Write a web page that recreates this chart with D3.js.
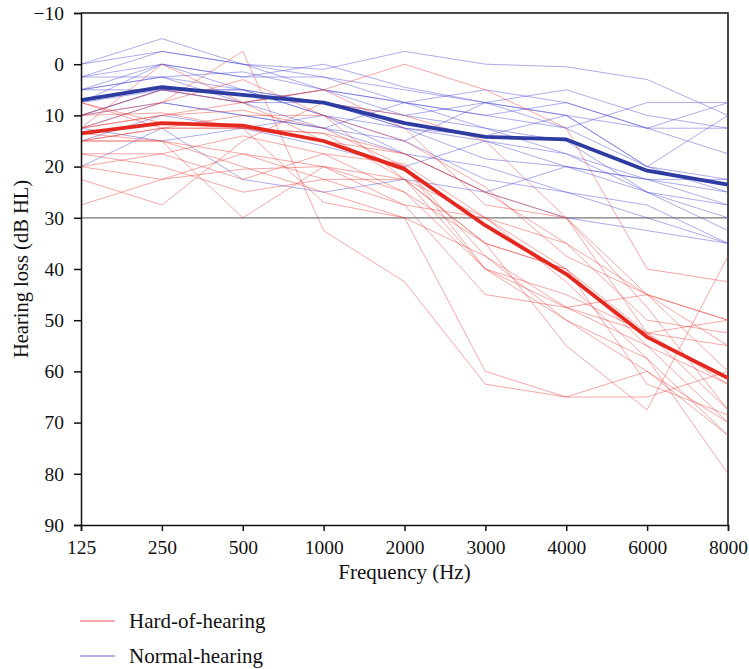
<!DOCTYPE html>
<html>
<head>
<meta charset="utf-8">
<script src="https://cdn.jsdelivr.net/npm/d3@7"></script>
<style>
  body { margin: 0; background: #fff; }
  .chart text { font-family: "Liberation Serif", "Times New Roman", serif; fill: #111; }
</style>
</head>
<body>
<div class="chart"></div>
<script>
// frequencies (Hz), categorical axis
const freqs = ["125", "250", "500", "1000", "2000", "3000", "4000", "6000", "8000"];
const yTicks = [-10, 0, 10, 20, 30, 40, 50, 60, 70, 80, 90];

// group means
const hardMean = [13.5, 11.5, 12, 15, 20.5, 31.5, 41, 53.3, 61.3];
const normalMean = [7, 4.5, 6, 7.5, 11.5, 14.2, 14.7, 20.8, 23.5];

// individual audiograms, hard-of-hearing
const hardSubjects = [
  [10, 7.5, -2.5, 32.5, 42.5, 62.5, 65, 65, 60],
  [15, 12.5, 12.5, 15, 17.5, 25, 30, 45, 50],
  [12.5, 10, 7.5, 5, 0, 5, 12.5, 40, 42.5],
  [27.5, 22.5, 17.5, 20, 27.5, 45, 47.5, 45, 50],
  [22.5, 27.5, 15, 7.5, 10, 15, 30, 52.5, 55],
  [17.5, 17.5, 22.5, 17.5, 25, 35, 40, 52.5, 67.5],
  [15, 15, 30, 20, 25, 40, 50, 60, 72.5],
  [12.5, 10, 9, 12.5, 20, 37.5, 47.5, 55, 62.5],
  [7.5, 12.5, 10, 10, 22.5, 35, 55, 67.5, 37.5],
  [13.5, 15, 20, 25, 30, 60, 65, 60, 70],
  [17.5, 20, 25, 22.5, 22.5, 30, 42.5, 57.5, 80],
  [10, 9.5, 12.5, 13.5, 17.5, 25, 35, 50, 52.5],
  [20, 17.5, 14, 17.5, 19.5, 30, 40, 62.5, 68.5],
  [12.5, 7.5, 3, 10, 15, 24, 37.5, 45, 55],
  [15, 12.5, 12.5, 27, 30, 37.5, 50, 57.5, 72.5],
  [10, 5, 7.5, 15, 20, 40, 45, 52.5, 62.5],
  [7.5, 11.5, 12.5, 13.5, 22.5, 40, 47.5, 52.5, 50],
  [15, 15, 17.5, 22.5, 27.5, 30, 35, 45, 60],
  [12.5, 0, 7.5, 5, 12.5, 27.5, 30, 47.5, 67.5],
  [20, 22.5, 20.5, 20, 22.5, 35, 40, 55, 70]
];

// individual audiograms, normal-hearing
const normalSubjects = [
  [0, -5, 0, 1, -2.5, 0, 0.5, 3, 10],
  [2.5, -2.5, 0, 5, 7.5, 5, 7.5, 12.5, 7.5],
  [5, 0, 2.5, 0, 4.5, 7.5, 12.5, 7.5, 7.5],
  [2.5, 0, 5, 7.5, 10, 7.5, 10, 20, 10],
  [5, 2.5, 1.5, 5, 7.5, 10, 7.5, 12.5, 12.5],
  [7.5, 0, 2.5, 2.5, 7.5, 12.5, 17.5, 22.5, 25],
  [10, 5, 5, 10, 12.5, 15, 20, 25, 27.5],
  [5, 5, 7.5, 5, 10, 12.5, 15, 25, 32.5],
  [12.5, 7.5, 10, 12.5, 15, 22.5, 25, 27.5, 35],
  [15, 10, 12.5, 10, 17.5, 20, 25, 30, 35],
  [20, 12.5, 22.5, 25, 22.5, 25, 20, 22.5, 22.5],
  [7.5, 5, 7.5, 7.5, 12.5, 14, 10, 20, 25],
  [2.5, 2.5, 5, 10, 15, 7.5, 10, 12.5, 17.5],
  [10, 7.5, 10, 12.5, 17.5, 25, 30, 32.5, 35],
  [5, 2.5, 7.5, 12.5, 7.5, 10, 12.5, 20, 22.5],
  [12.5, 15, 12.5, 16, 20, 15, 17.5, 25, 30],
  [0, -2.5, 0, 2.5, 5, 7.5, 5, 10, 12.5],
  [10, 5, 5, 7.5, 12.5, 18.5, 20, 22.5, 27.5]
];

const legendItems = ["Hard-of-hearing", "Normal-hearing"];

const width = 749, height = 669;
const margin = ({top: 13, right: 21, bottom: 144, left: 81});

const svg = d3.select(".chart")
  .append("svg")
  .attr("width", width)
  .attr("height", height);

const xScale = d3.scalePoint()
  .domain(freqs)
  .range([margin.left, width - margin.right]);

const yScale = d3.scaleLinear()
  .domain([-10, 90])
  .range([margin.top, height - margin.bottom]);

const line = d3.line()
  .x((d, i) => xScale(freqs[i]))
  .y(d => yScale(d));

// frame (top and right)
svg.append("path")
  .attr("d", `M${margin.left},${yScale(-10)}H${width - margin.right}V${yScale(90)}`)
  .attr("fill", "none")
  .attr("stroke", "#111")
  .attr("stroke-width", 1.5);

// 30 dB reference line
svg.append("line")
  .attr("x1", margin.left)
  .attr("x2", width - margin.right)
  .attr("y1", yScale(30))
  .attr("y2", yScale(30))
  .attr("stroke", "#777")
  .attr("stroke-width", 1.2);

svg.append("g")
  .selectAll("path")
  .data(normalSubjects)
  .join("path")
  .attr("d", line)
  .attr("fill", "none")
  .attr("stroke", "rgb(70,70,210)")
  .attr("stroke-opacity", 0.45)
  .attr("stroke-width", 1);

svg.append("g")
  .selectAll("path")
  .data(hardSubjects)
  .join("path")
  .attr("d", line)
  .attr("fill", "none")
  .attr("stroke", "rgb(232,60,55)")
  .attr("stroke-opacity", 0.45)
  .attr("stroke-width", 1);

svg.append("path")
  .datum(normalMean)
  .attr("d", line)
  .attr("fill", "none")
  .attr("stroke", "#2c3ca0")
  .attr("stroke-width", 3.8)
  .attr("stroke-linejoin", "round");

svg.append("path")
  .datum(hardMean)
  .attr("d", line)
  .attr("fill", "none")
  .attr("stroke", "#e4281d")
  .attr("stroke-width", 3.8)
  .attr("stroke-linejoin", "round");

// axes
const xAxis = d3.axisBottom(xScale).tickSize(6).tickPadding(9);
const yAxis = d3.axisLeft(yScale).tickValues(yTicks).tickSize(7).tickPadding(10);

svg.append("g")
  .attr("class", "axis x-axis")
  .attr("transform", `translate(0,${yScale(90)})`)
  .call(xAxis)
  .call(g => g.select(".domain").attr("stroke", "#111").attr("stroke-width", 1.5))
  .call(g => g.selectAll(".tick line").attr("stroke", "#111").attr("stroke-width", 1.5))
  .call(g => g.selectAll(".tick text").attr("font-size", 19.5));

svg.append("g")
  .attr("class", "axis y-axis")
  .attr("transform", `translate(${margin.left},0)`)
  .call(yAxis)
  .call(g => g.select(".domain").attr("stroke", "#111").attr("stroke-width", 1.5))
  .call(g => g.selectAll(".tick line").attr("stroke", "#111").attr("stroke-width", 1.5))
  .call(g => g.selectAll(".tick text").attr("font-size", 19.5));

svg.append("text")
  .attr("x", (margin.left + width - margin.right) / 2)
  .attr("y", 579)
  .attr("text-anchor", "middle")
  .attr("font-size", 21)
  .text("Frequency (Hz)");

svg.append("text")
  .attr("transform", `translate(28,${(margin.top + height - margin.bottom) / 2}) rotate(-90)`)
  .attr("text-anchor", "middle")
  .attr("font-size", 20.5)
  .text("Hearing loss (dB HL)");

// legend
const legendColors = ["rgba(232,60,55,0.55)", "rgba(70,70,210,0.55)"];
const legend = svg.append("g")
  .selectAll("g")
  .data(legendItems)
  .join("g")
  .attr("transform", (d, i) => `translate(80,${621 + i * 35})`);

legend.append("line")
  .attr("x1", 0)
  .attr("x2", 35)
  .attr("stroke", (d, i) => legendColors[i])
  .attr("stroke-width", 1.5);

legend.append("text")
  .attr("x", 49)
  .attr("dy", "0.32em")
  .attr("font-size", 21)
  .text(d => d);
</script>
</body>
</html>
